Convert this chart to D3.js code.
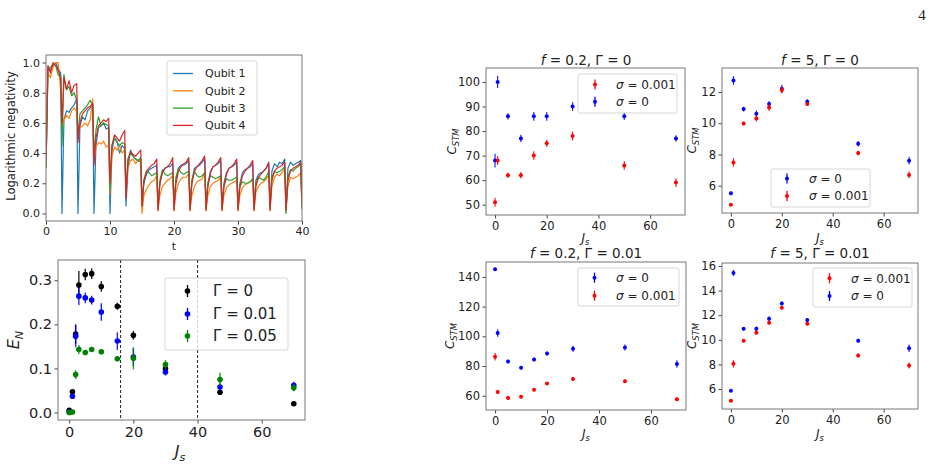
<!DOCTYPE html>
<html>
<head>
<meta charset="utf-8">
<script src="https://cdn.jsdelivr.net/npm/d3@7"></script>
<style>
  body { margin: 0; background: #fff; }
  text { font-family: "DejaVu Sans", sans-serif; fill: #222; }
</style>
</head>
<body>
<div id="container"></div>
<script>
// ---- panel (a): logarithmic negativity vs t ----
// time samples: each 2.5 period sampled at offsets 0, .3, .7, 1.1, 1.5, 1.9, 2.3
const tVals = [
  0, 0.3, 0.7, 1.1, 1.5, 1.9, 2.3,
  2.5, 2.8, 3.2, 3.6, 4.0, 4.4, 4.8,
  5, 5.3, 5.7, 6.1, 6.5, 6.9, 7.3,
  7.5, 7.8, 8.2, 8.6, 9.0, 9.4, 9.8,
  10, 10.3, 10.7, 11.1, 11.5, 11.9, 12.3,
  12.5, 12.8, 13.2, 13.6, 14.0, 14.4, 14.8,
  15, 15.3, 15.7, 16.1, 16.5, 16.9, 17.3,
  17.5, 17.8, 18.2, 18.6, 19.0, 19.4, 19.8,
  20, 20.3, 20.7, 21.1, 21.5, 21.9, 22.3,
  22.5, 22.8, 23.2, 23.6, 24.0, 24.4, 24.8,
  25, 25.3, 25.7, 26.1, 26.5, 26.9, 27.3,
  27.5, 27.8, 28.2, 28.6, 29.0, 29.4, 29.8,
  30, 30.3, 30.7, 31.1, 31.5, 31.9, 32.3,
  32.5, 32.8, 33.2, 33.6, 34.0, 34.4, 34.8,
  35, 35.3, 35.7, 36.1, 36.5, 36.9, 37.3,
  37.5, 37.8, 38.2, 38.6, 39.0, 39.4, 39.8,
  40
];
const qubit1 = [
  0.30, 0.97, 0.95, 0.98, 1.00, 0.96, 0.93,
  0.00, 0.62, 0.68, 0.67, 0.70, 0.72, 0.76,
  0.00, 0.58, 0.64, 0.62, 0.68, 0.70, 0.72,
  0.00, 0.45, 0.57, 0.58, 0.60, 0.56, 0.57,
  0.00, 0.42, 0.50, 0.48, 0.40, 0.45, 0.43,
  0.05, 0.30, 0.42, 0.38, 0.36, 0.35, 0.34,
  0.08, 0.20, 0.26, 0.29, 0.30, 0.31, 0.32,
  0.06, 0.20, 0.28, 0.30, 0.31, 0.31, 0.33,
  0.06, 0.22, 0.30, 0.32, 0.32, 0.33, 0.35,
  0.05, 0.22, 0.30, 0.31, 0.32, 0.34, 0.36,
  0.05, 0.20, 0.28, 0.31, 0.32, 0.33, 0.35,
  0.05, 0.20, 0.27, 0.30, 0.31, 0.32, 0.34,
  0.05, 0.20, 0.27, 0.29, 0.30, 0.31, 0.33,
  0.05, 0.22, 0.26, 0.27, 0.28, 0.30, 0.33,
  0.05, 0.28, 0.33, 0.31, 0.34, 0.33, 0.36,
  0.03, 0.30, 0.34, 0.32, 0.33, 0.34, 0.35,
  0.05
];
const qubit2 = [
  0.30, 0.93, 0.90, 0.97, 1.00, 1.00, 0.82,
  0.55, 0.62, 0.65, 0.63, 0.68, 0.70, 0.68,
  0.55, 0.57, 0.58, 0.60, 0.58, 0.62, 0.76,
  0.35, 0.44, 0.47, 0.46, 0.48, 0.44, 0.45,
  0.13, 0.38, 0.44, 0.42, 0.45, 0.40, 0.42,
  0.13, 0.30, 0.35, 0.36, 0.33, 0.35, 0.36,
  0.00, 0.12, 0.16, 0.19, 0.21, 0.22, 0.25,
  0.02, 0.12, 0.18, 0.20, 0.22, 0.23, 0.25,
  0.02, 0.14, 0.20, 0.23, 0.24, 0.24, 0.26,
  0.02, 0.12, 0.18, 0.21, 0.22, 0.23, 0.27,
  0.02, 0.12, 0.18, 0.20, 0.21, 0.22, 0.24,
  0.02, 0.12, 0.17, 0.19, 0.20, 0.21, 0.22,
  0.02, 0.12, 0.17, 0.19, 0.20, 0.21, 0.22,
  0.02, 0.14, 0.18, 0.20, 0.21, 0.23, 0.25,
  0.02, 0.18, 0.24, 0.26, 0.25, 0.27, 0.30,
  0.02, 0.18, 0.24, 0.23, 0.24, 0.25, 0.27,
  0.03
];
const qubit3 = [
  0.30, 0.95, 0.97, 0.99, 0.98, 0.92, 0.90,
  0.45, 0.92, 0.82, 0.84, 0.78, 0.80, 0.75,
  0.50, 0.66, 0.68, 0.70, 0.72, 0.75, 0.72,
  0.38, 0.55, 0.64, 0.58, 0.60, 0.59, 0.58,
  0.15, 0.45, 0.50, 0.47, 0.45, 0.47, 0.46,
  0.15, 0.35, 0.40, 0.38, 0.36, 0.35, 0.37,
  0.05, 0.22, 0.28, 0.27, 0.25, 0.26, 0.27,
  0.04, 0.22, 0.29, 0.26, 0.25, 0.26, 0.27,
  0.04, 0.24, 0.30, 0.27, 0.26, 0.27, 0.28,
  0.04, 0.22, 0.28, 0.25, 0.24, 0.25, 0.27,
  0.04, 0.20, 0.25, 0.24, 0.23, 0.24, 0.25,
  0.04, 0.18, 0.23, 0.22, 0.22, 0.23, 0.24,
  0.04, 0.18, 0.21, 0.20, 0.20, 0.21, 0.23,
  0.04, 0.20, 0.24, 0.23, 0.22, 0.24, 0.28,
  0.04, 0.24, 0.28, 0.27, 0.28, 0.29, 0.31,
  0.00, 0.24, 0.29, 0.28, 0.30, 0.31, 0.33,
  0.03
];
const qubit4 = [
  0.35, 0.98, 0.93, 1.00, 0.98, 0.95, 0.90,
  0.60, 0.90, 0.82, 0.88, 0.80, 0.85, 0.86,
  0.47, 0.60, 0.66, 0.68, 0.70, 0.71, 0.73,
  0.32, 0.50, 0.58, 0.60, 0.62, 0.61, 0.63,
  0.20, 0.45, 0.52, 0.50, 0.48, 0.52, 0.55,
  0.10, 0.36, 0.41, 0.39, 0.38, 0.40, 0.42,
  0.05, 0.22, 0.28, 0.30, 0.32, 0.33, 0.36,
  0.02, 0.20, 0.27, 0.30, 0.31, 0.33, 0.37,
  0.02, 0.20, 0.28, 0.31, 0.33, 0.34, 0.37,
  0.02, 0.20, 0.28, 0.31, 0.33, 0.35, 0.38,
  0.02, 0.18, 0.27, 0.31, 0.32, 0.34, 0.37,
  0.02, 0.18, 0.26, 0.30, 0.31, 0.33, 0.36,
  0.02, 0.18, 0.25, 0.28, 0.30, 0.32, 0.35,
  0.02, 0.18, 0.24, 0.26, 0.28, 0.30, 0.34,
  0.02, 0.22, 0.28, 0.30, 0.31, 0.32, 0.34,
  0.02, 0.22, 0.28, 0.30, 0.31, 0.32, 0.34,
  0.05
];
const qubitNames = ['Qubit 1', 'Qubit 2', 'Qubit 3', 'Qubit 4'];
const qubitColors = ['#1f77b4', '#ff7f0e', '#2ca02c', '#d62728'];

// ---- panel (b): E_N vs J_s ----
const jsB = [0, 1, 2, 3, 5, 7, 10, 15, 20, 30, 47, 70];
const enG0 = [0.005, 0.047, 0.178, 0.289, 0.313, 0.315, 0.286, 0.241, 0.175, 0.100, 0.046, 0.020];
const enG0Err = [0.003, 0.005, 0.022, 0.032, 0.013, 0.012, 0.012, 0.008, 0.010, 0.008, 0.005, 0.003];
const enG001 = [0.001, 0.037, 0.173, 0.264, 0.260, 0.255, 0.228, 0.162, 0.126, 0.092, 0.058, 0.062];
const enG001Err = [0.002, 0.004, 0.025, 0.020, 0.012, 0.010, 0.020, 0.020, 0.020, 0.008, 0.008, 0.008];
const enG005 = [0.000, 0.001, 0.086, 0.143, 0.136, 0.143, 0.138, 0.122, 0.123, 0.109, 0.075, 0.056];
const enG005Err = [0.002, 0.002, 0.010, 0.010, 0.005, 0.004, 0.005, 0.005, 0.025, 0.010, 0.015, 0.008];
const dashedJs = [16, 40];

// ---- C_STM panels ----
const jsC = [0, 1, 5, 10, 15, 20, 30, 50, 70];
const c1Sig0 = [68, 100, 86, 77, 86, 86, 90, 86, 77];
const c1Sig0Err = [2.8, 2.5, 1.3, 1.5, 1.8, 1.8, 1.8, 1.5, 1.3];
const c1Sig1 = [51, 68, 62, 62, 70, 75, 78, 66, 59];
const c1Sig1Err = [1.8, 1.8, 1.0, 1.3, 1.8, 1.5, 1.8, 1.8, 1.8];

const c2Sig0 = [5.51, 12.74, 10.91, 10.61, 11.23, 12.21, 11.38, 8.69, 7.60];
const c2Sig0Err = [0.12, 0.28, 0.15, 0.2, 0.18, 0.25, 0.15, 0.18, 0.25];
const c2Sig1 = [4.78, 7.49, 9.99, 10.31, 11.01, 12.13, 11.23, 8.09, 6.69];
const c2Sig1Err = [0.08, 0.28, 0.12, 0.2, 0.22, 0.22, 0.12, 0.15, 0.22];

const c3Sig0 = [145.2, 102.2, 83.1, 78.8, 84.4, 88.5, 91.6, 92.5, 81.3];
const c3Sig0Err = [1.0, 2.5, 1.2, 1.0, 1.2, 1.2, 2.0, 2.0, 2.5];
const c3Sig1 = [86.2, 62.5, 58.5, 59.3, 64.0, 68.3, 71.2, 69.7, 57.6];
const c3Sig1Err = [2.5, 1.5, 1.0, 1.0, 1.0, 1.0, 1.0, 1.2, 1.2];

const c4Sig0 = [5.86, 15.43, 10.90, 10.90, 11.71, 12.96, 11.60, 9.93, 9.32];
const c4Sig0Err = [0.1, 0.25, 0.15, 0.18, 0.18, 0.15, 0.15, 0.15, 0.3];
const c4Sig1 = [5.05, 8.05, 9.93, 10.58, 11.39, 12.60, 11.31, 8.72, 7.91];
const c4Sig1Err = [0.08, 0.3, 0.12, 0.15, 0.15, 0.12, 0.12, 0.15, 0.25];

const width = 933;
const height = 466;
const svg = d3.select('#container').append('svg')
  .attr('width', width)
  .attr('height', height);

// write text made of parts [str, italic, sub]
function richText(sel, parts, size) {
  parts.forEach(p => {
    const ts = sel.append('tspan').text(p[0]);
    if (p[1]) ts.attr('font-style', 'italic');
    if (p[2]) ts.attr('font-size', size * 0.7).attr('baseline-shift', '-' + (size * 0.22) + 'px');
  });
}

function makePanel(o) {
  const x = d3.scaleLinear().domain(o.xd).range([o.l, o.r]);
  const y = d3.scaleLinear().domain(o.yd).range([o.b, o.t]);
  const gx = svg.append('g').attr('transform', `translate(0,${o.b})`)
    .call(d3.axisBottom(x).tickValues(o.xt).tickSize(3.5).tickSizeOuter(0).tickPadding(3)
      .tickFormat(o.xf || d3.format('d')));
  const gy = svg.append('g').attr('transform', `translate(${o.l},0)`)
    .call(d3.axisLeft(y).tickValues(o.yt).tickSize(3.5).tickSizeOuter(0).tickPadding(2.5)
      .tickFormat(o.yf || d3.format('d')));
  [gx, gy].forEach(g => {
    g.select('.domain').remove();
    g.selectAll('line').attr('stroke', '#444');
    g.selectAll('text').attr('font-size', o.fs).attr('fill', '#222')
      .style('font-family', '"DejaVu Sans", sans-serif');
  });
  const clipId = 'clip' + Math.round(o.l) + '_' + Math.round(o.t);
  svg.append('clipPath').attr('id', clipId).append('rect')
    .attr('x', o.l).attr('y', o.t).attr('width', o.r - o.l).attr('height', o.b - o.t);
  const plot = svg.append('g').attr('clip-path', `url(#${clipId})`);
  const frame = () => svg.append('rect')
    .attr('x', o.l).attr('y', o.t).attr('width', o.r - o.l).attr('height', o.b - o.t)
    .attr('fill', 'none').attr('stroke', '#777').attr('stroke-width', 1);
  return {x, y, plot, frame};
}

function errorPoints(p, xs, ys, es, color, r, sw) {
  const g = p.plot.append('g');
  g.selectAll('line').data(ys).enter().append('line')
    .attr('x1', (d, i) => p.x(xs[i])).attr('x2', (d, i) => p.x(xs[i]))
    .attr('y1', (d, i) => p.y(d - es[i])).attr('y2', (d, i) => p.y(d + es[i]))
    .attr('stroke', color).attr('stroke-width', sw).attr('opacity', 0.85);
  g.selectAll('circle').data(ys).enter().append('circle')
    .attr('cx', (d, i) => p.x(xs[i])).attr('cy', d => p.y(d))
    .attr('r', r).attr('fill', color);
}

function errLegend(box, items, mx, tx, fs, r, half) {
  svg.append('rect').attr('x', box[0]).attr('y', box[1])
    .attr('width', box[2] - box[0]).attr('height', box[3] - box[1])
    .attr('rx', 2).attr('fill', 'white').attr('fill-opacity', 0.8)
    .attr('stroke', '#ccc').attr('stroke-width', 0.8);
  items.forEach(it => {
    svg.append('line').attr('x1', mx).attr('x2', mx)
      .attr('y1', it.y - half).attr('y2', it.y + half)
      .attr('stroke', it.color).attr('stroke-width', 1.3);
    svg.append('circle').attr('cx', mx).attr('cy', it.y).attr('r', r).attr('fill', it.color);
    const t = svg.append('text').attr('x', tx).attr('y', it.y).attr('dy', '0.35em')
      .attr('font-size', fs);
    richText(t, it.parts, fs);
  });
}

// ---------- panel (a) ----------
const pA = makePanel({l: 46, t: 55, r: 302, b: 221, xd: [0, 40], yd: [-0.05, 1.05],
  xt: [0, 10, 20, 30, 40], yt: [0, 0.2, 0.4, 0.6, 0.8, 1.0], fs: 11, yf: d3.format('.1f')});
const lineA = d3.line().x((d, i) => pA.x(tVals[i])).y(d => pA.y(d));
[qubit1, qubit2, qubit3, qubit4].forEach((s, k) => {
  pA.plot.append('path').datum(s).attr('d', lineA)
    .attr('fill', 'none').attr('stroke', qubitColors[k]).attr('stroke-width', 1.2)
    .attr('stroke-linejoin', 'round');
});
pA.frame();
svg.append('rect').attr('x', 167).attr('y', 61).attr('width', 90).attr('height', 74)
  .attr('rx', 2).attr('fill', 'white').attr('fill-opacity', 0.8)
  .attr('stroke', '#ccc').attr('stroke-width', 0.8);
qubitNames.forEach((n, k) => {
  const yy = 73.5 + k * 17.3;
  svg.append('line').attr('x1', 173).attr('x2', 193).attr('y1', yy).attr('y2', yy)
    .attr('stroke', qubitColors[k]).attr('stroke-width', 1.3);
  svg.append('text').attr('x', 205).attr('y', yy).attr('dy', '0.35em')
    .attr('font-size', 11).text(n);
});
svg.append('text').attr('x', 174).attr('y', 250).attr('text-anchor', 'middle')
  .attr('font-size', 11).text('t');
svg.append('text').attr('transform', 'translate(15,136) rotate(-90)')
  .attr('text-anchor', 'middle').attr('font-size', 11.5).text('Logarithmic negativity');

// ---------- panel (b) ----------
const pB = makePanel({l: 58, t: 260, r: 305, b: 420, xd: [-3.5, 73.5], yd: [-0.017, 0.346],
  xt: [0, 20, 40, 60], yt: [0, 0.1, 0.2, 0.3], fs: 14.5, yf: d3.format('.1f')});
dashedJs.forEach(v => {
  pB.plot.append('line').attr('x1', pB.x(v)).attr('x2', pB.x(v))
    .attr('y1', 260).attr('y2', 420).attr('stroke', '#333').attr('stroke-width', 1.1)
    .attr('stroke-dasharray', '3,2');
});
errorPoints(pB, jsB, enG0, enG0Err, 'black', 2.8, 1.4);
errorPoints(pB, jsB, enG001, enG001Err, 'blue', 2.8, 1.4);
errorPoints(pB, jsB, enG005, enG005Err, 'green', 2.8, 1.4);
pB.frame();
errLegend([165, 278, 288, 350], [
  {y: 291, color: 'black', parts: [['Γ = 0']]},
  {y: 314, color: 'blue', parts: [['Γ = 0.01']]},
  {y: 336, color: 'green', parts: [['Γ = 0.05']]}
], 187.5, 213, 15, 2.8, 6);
const tb = svg.append('text').attr('x', 180).attr('y', 457).attr('text-anchor', 'middle').attr('font-size', 16);
richText(tb, [['J', true], ['s', true, true]], 16);
const yb = svg.append('text').attr('transform', 'translate(19,340) rotate(-90)')
  .attr('text-anchor', 'middle').attr('font-size', 16);
richText(yb, [['E', true], ['N', true, true]], 16);

// ---------- C_STM panels ----------
const cPanels = [
  {box: {l: 486, t: 68, r: 685, b: 215}, yd: [45.8, 105.7], yt: [50, 60, 70, 80, 90, 100],
    title: [['f', true], [' = 0.2, Γ = 0']], tx: 586, ty: 65, lab: 456, xly: 242,
    series: [[c1Sig0, c1Sig0Err, 'blue'], [c1Sig1, c1Sig1Err, 'red']],
    legend: {box: [578, 74, 677, 113], mx: 595, tx: 616,
      items: [{y: 84.5, color: 'red', parts: [['σ', true], [' = 0.001']]},
              {y: 101.7, color: 'blue', parts: [['σ', true], [' = 0']]}]}},
  {box: {l: 722, t: 68, r: 918, b: 213}, yd: [4.25, 13.54], yt: [6, 8, 10, 12],
    title: [['f', true], [' = 5, Γ = 0']], tx: 820, ty: 65, lab: 696, xly: 242,
    series: [[c2Sig0, c2Sig0Err, 'blue'], [c2Sig1, c2Sig1Err, 'red']],
    legend: {box: [771, 169, 870, 207], mx: 787, tx: 809,
      items: [{y: 178.5, color: 'blue', parts: [['σ', true], [' = 0']]},
              {y: 196, color: 'red', parts: [['σ', true], [' = 0.001']]}]}},
  {box: {l: 486, t: 262, r: 686, b: 410}, yd: [50.4, 150], yt: [60, 80, 100, 120, 140],
    title: [['f', true], [' = 0.2, Γ = 0.01']], tx: 586, ty: 258, lab: 454, xly: 438,
    series: [[c3Sig0, c3Sig0Err, 'blue'], [c3Sig1, c3Sig1Err, 'red']],
    legend: {box: [578, 268, 679, 306], mx: 594.5, tx: 616,
      items: [{y: 277.7, color: 'blue', parts: [['σ', true], [' = 0']]},
              {y: 295.7, color: 'red', parts: [['σ', true], [' = 0.001']]}]}},
  {box: {l: 722, t: 263, r: 918, b: 409}, yd: [4.38, 16.24], yt: [6, 8, 10, 12, 14, 16],
    title: [['f', true], [' = 5, Γ = 0.01']], tx: 820, ty: 258, lab: 696, xly: 438,
    series: [[c4Sig0, c4Sig0Err, 'blue'], [c4Sig1, c4Sig1Err, 'red']],
    legend: {box: [813, 268, 912, 307], mx: 829.5, tx: 851,
      items: [{y: 278.3, color: 'red', parts: [['σ', true], [' = 0.001']]},
              {y: 296, color: 'blue', parts: [['σ', true], [' = 0']]}]}}
];
cPanels.forEach(c => {
  const p = makePanel(Object.assign({}, c.box, {xd: [-3.5, 73.5], yd: c.yd,
    xt: [0, 20, 40, 60], yt: c.yt, fs: 11.5}));
  c.series.forEach(s => errorPoints(p, jsC, s[0], s[1], s[2], 2, 1.2));
  p.frame();
  errLegend(c.legend.box, c.legend.items, c.legend.mx, c.legend.tx, 12, 2, 5);
  const tt = svg.append('text').attr('x', c.tx).attr('y', c.ty).attr('text-anchor', 'middle')
    .attr('font-size', 13.5);
  richText(tt, c.title, 13.5);
  const xl = svg.append('text').attr('x', (c.box.l + c.box.r) / 2).attr('y', c.xly)
    .attr('text-anchor', 'middle').attr('font-size', 12);
  richText(xl, [['J', true], ['s', true, true]], 12);
  const yl = svg.append('text')
    .attr('transform', `translate(${c.lab},${(c.box.t + c.box.b) / 2}) rotate(-90)`)
    .attr('text-anchor', 'middle').attr('font-size', 12);
  richText(yl, [['C', true], ['STM', true, true]], 12);
});

// page number
svg.append('text').attr('x', 922).attr('y', 20).attr('text-anchor', 'middle')
  .attr('font-size', 15).style('font-family', '"Liberation Serif", serif').text('4');
</script>
</body>
</html>
